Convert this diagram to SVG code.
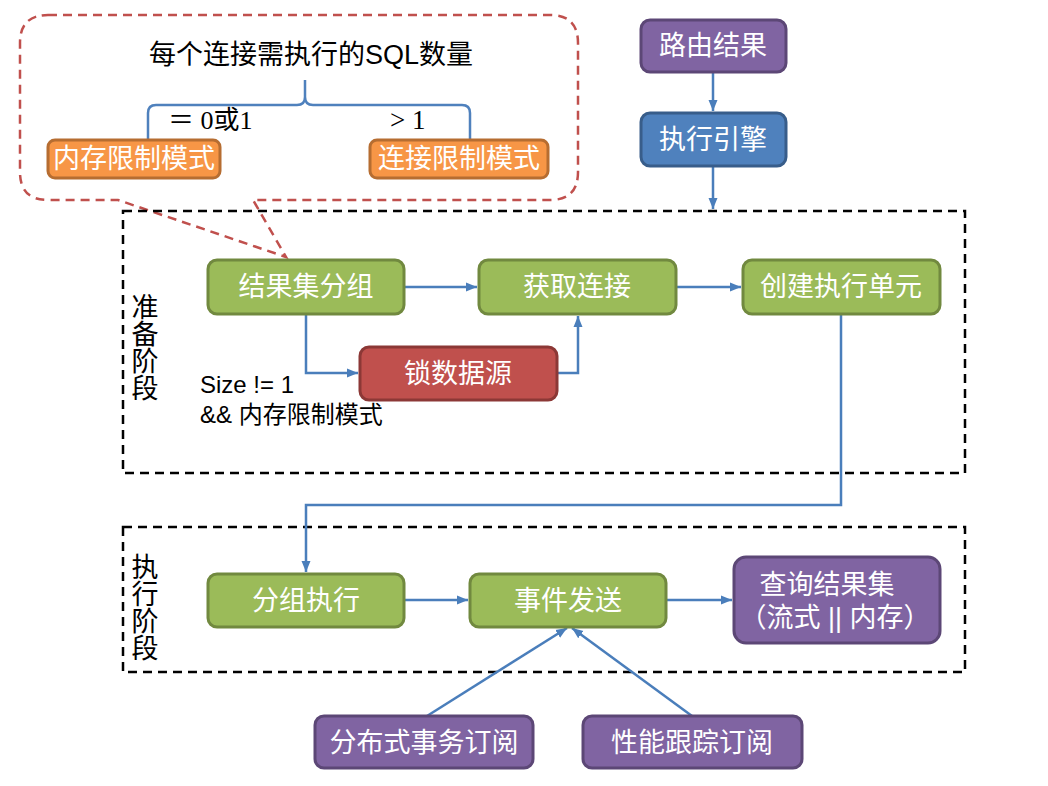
<svg xmlns="http://www.w3.org/2000/svg" width="1048" height="786" viewBox="0 0 1048 786">
<style>
.cjk{font-family:"Liberation Sans","Noto Sans CJK SC",sans-serif}
.lbl{font-family:"Liberation Sans","Noto Sans CJK SC",sans-serif;fill:#fff;font-size:27px;text-anchor:middle;dominant-baseline:central}
.green{fill:#9BBB59;stroke:#71893F;stroke-width:3}
.purple{fill:#8064A2;stroke:#5C4776;stroke-width:3}
.blue{fill:#4F81BD;stroke:#385D8A;stroke-width:3}
.red{fill:#C0504D;stroke:#8C3836;stroke-width:3}
.orange{fill:#F79646;stroke:#B66D31;stroke-width:3}
.conn{fill:none;stroke:#4A7EBB;stroke-width:2.5}
.phase{fill:none;stroke:#000;stroke-width:2.5;stroke-dasharray:9,6}
.side{font-family:"Noto Sans CJK SC",sans-serif;font-size:27px;fill:#000;writing-mode:vertical-rl}
</style>
<defs>
<marker id="arr" markerUnits="userSpaceOnUse" markerWidth="12" markerHeight="12" viewBox="0 0 12 12" refX="11" refY="6" orient="auto">
<path d="M0,1.5 L11,6 L0,10.5 Z" fill="#4A7EBB"/>
</marker>
</defs>
<rect width="1048" height="786" fill="#fff"/>

<g id="callout">
<path d="M48,15 H550 Q578,15 578,43 V172 Q578,200 550,200 H253 L286,257 L118,200 H48 Q20,200 20,172 V43 Q20,15 48,15 Z" fill="none" stroke="#C0504D" stroke-width="2.5" stroke-dasharray="9,6"/>
<text x="311" y="64" class="cjk" font-size="27" text-anchor="middle" fill="#000">每个连接需执行的SQL数量</text>
<path d="M148,140 V113 Q148,105 156,105 H297 Q305,105 305,97 V80 V97 Q305,105 313,105 H462 Q470,105 470,113 V140" fill="none" stroke="#4F81BD" stroke-width="2.5"/>
<text x="168" y="129" font-family="'Liberation Serif','Noto Sans CJK SC',serif" font-size="26" fill="#000">＝ 0或1</text>
<text x="390" y="129" font-family="'Liberation Serif','Noto Sans CJK SC',serif" font-size="27" fill="#000">&gt; 1</text>
</g>
<g id="mem-mode">
<rect x="48" y="140" width="172" height="38" rx="7" class="orange"/>
<text x="134" y="159" class="lbl" font-size="20">内存限制模式</text>
</g>
<g id="conn-mode">
<rect x="370" y="140" width="178" height="38" rx="7" class="orange"/>
<text x="459" y="159" class="lbl" font-size="20">连接限制模式</text>
</g>

<g id="phase-prepare">
<rect x="123" y="211" width="842" height="262" class="phase"/>
<text class="side" x="145" y="293">准备阶段</text>
</g>
<g id="phase-exec">
<rect x="123" y="527" width="842" height="145" class="phase"/>
<text class="side" x="145" y="553">执行阶段</text>
</g>

<g id="connectors">
<path class="conn" d="M713,72 V111" marker-end="url(#arr)"/>
<path class="conn" d="M713,166 V209" marker-end="url(#arr)"/>
<path class="conn" d="M404,287 H477" marker-end="url(#arr)"/>
<path class="conn" d="M676,287 H741" marker-end="url(#arr)"/>
<path class="conn" d="M306,314 V373 H358" marker-end="url(#arr)"/>
<path class="conn" d="M557,373 H578 V316" marker-end="url(#arr)"/>
<path class="conn" d="M841,314 V505 H306 V572" marker-end="url(#arr)"/>
<path class="conn" d="M404,600 H468" marker-end="url(#arr)"/>
<path class="conn" d="M666,600 H732" marker-end="url(#arr)"/>
<path class="conn" d="M427,716 L567,628" marker-end="url(#arr)"/>
<path class="conn" d="M692,716 L572,628" marker-end="url(#arr)"/>
</g>

<g id="route-result">
<rect x="641" y="20" width="145" height="52" rx="9" class="purple"/>
<text x="713" y="46" class="lbl">路由结果</text>
</g>
<g id="engine">
<rect x="641" y="113" width="145" height="53" rx="9" class="blue"/>
<text x="713" y="140" class="lbl">执行引擎</text>
</g>
<g id="group-result">
<rect x="208" y="260" width="196" height="54" rx="9" class="green"/>
<text x="306" y="287" class="lbl">结果集分组</text>
</g>
<g id="get-conn">
<rect x="479" y="260" width="197" height="54" rx="9" class="green"/>
<text x="577" y="287" class="lbl">获取连接</text>
</g>
<g id="create-unit">
<rect x="743" y="260" width="197" height="54" rx="9" class="green"/>
<text x="841" y="287" class="lbl">创建执行单元</text>
</g>
<g id="lock-ds">
<rect x="360" y="347" width="197" height="53" rx="9" class="red"/>
<text x="458" y="374" class="lbl">锁数据源</text>
</g>
<g id="cond-label">
<text x="200" y="393" class="cjk" font-size="24" fill="#000">Size != 1</text>
<text x="200" y="423" class="cjk" font-size="24" fill="#000">&amp;&amp; 内存限制模式</text>
</g>
<g id="group-exec">
<rect x="208" y="574" width="196" height="53" rx="9" class="green"/>
<text x="306" y="601" class="lbl">分组执行</text>
</g>
<g id="event-send">
<rect x="470" y="574" width="196" height="53" rx="9" class="green"/>
<text x="568" y="601" class="lbl">事件发送</text>
</g>
<g id="query-result">
<rect x="734" y="557" width="206" height="86" rx="12" class="purple"/>
<text x="827" y="585" class="lbl">查询结果集</text>
<text x="835" y="618" class="lbl">（流式 || 内存）</text>
</g>
<g id="tx-sub">
<rect x="315" y="716" width="218" height="52" rx="9" class="purple"/>
<text x="424" y="743" class="lbl">分布式事务订阅</text>
</g>
<g id="perf-sub">
<rect x="583" y="716" width="219" height="52" rx="9" class="purple"/>
<text x="692" y="743" class="lbl">性能跟踪订阅</text>
</g>
</svg>
